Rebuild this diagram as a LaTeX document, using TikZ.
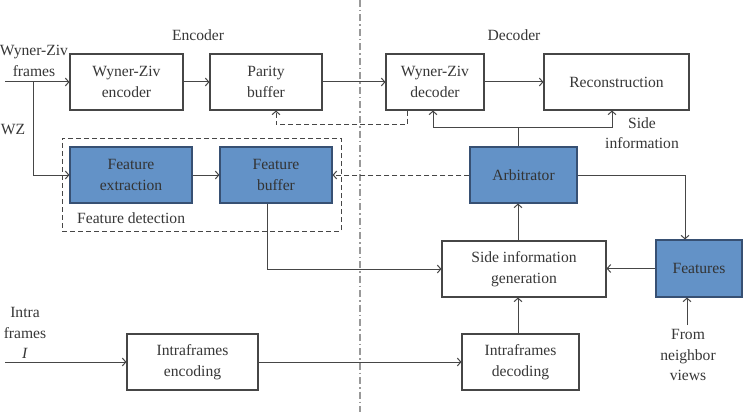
\documentclass[tikz,border=0pt]{standalone}
\usepackage{fontspec}
\setmainfont{Liberation Serif}
\usetikzlibrary{arrows.meta,calc}
\definecolor{ln}{RGB}{70,70,70}
\definecolor{tx}{RGB}{55,55,55}
\definecolor{bfill}{RGB}{99,146,199}
\definecolor{bdraw}{RGB}{55,80,115}
\begin{document}
\begin{tikzpicture}[x=1pt,y=-1pt,
  font=\fontsize{15.6}{20.5}\selectfont,
  every node/.style={text=tx},
  wbox/.style={draw=ln,line width=1.1pt,fill=white,align=center,inner sep=0pt},
  bbox/.style={draw=bdraw,line width=1.1pt,fill=bfill,align=center,inner sep=0pt,text=black!80},
  lbl/.style={align=center,inner sep=0pt},
  arr/.style={draw=ln,line width=1pt,-{Straight Barb[length=3.5pt,width=8pt]}},
  ln/.style={draw=ln,line width=1pt},
  dsh/.style={draw=ln,line width=1pt,dash pattern=on 5pt off 3pt}
]
\useasboundingbox (0,0) rectangle (745,412);
\fill[white] (0,0) rectangle (745,412);
% separator
\draw[gray!80,line width=1.2pt,dash pattern=on 7pt off 3pt on 1.5pt off 3pt] (360,0) -- (360,412);
% labels
\node[lbl] (enc) at (198,35) {Encoder};
\node[lbl] (dec) at (514,35) {Decoder};
\node[lbl] (wzf) at (34,61) {Wyner-Ziv\\frames};
\node[lbl] (wz) at (13,130) {WZ};
\node[lbl,anchor=west] (fdl) at (77,218) {Feature detection};
\node[lbl] (si) at (642,133) {Side\\information};
\node[lbl] (intra) at (25,333) {Intra\\frames\\\textit{I}};
\node[lbl] (nbr) at (688,355) {From\\neighbor\\views};
% boxes
\node[wbox,minimum width=113pt,minimum height=56pt] (wze) at (126.5,82) {Wyner-Ziv\\encoder};
\node[wbox,minimum width=112pt,minimum height=56pt] (pb) at (266,82) {Parity\\buffer};
\node[wbox,minimum width=98pt,minimum height=56pt] (wzd) at (435,82) {Wyner-Ziv\\decoder};
\node[wbox,minimum width=145pt,minimum height=56pt] (rec) at (616.5,82) {Reconstruction};
\node[draw=ln,line width=1pt,dash pattern=on 5pt off 3pt,minimum width=279pt,minimum height=93pt] (fd) at (201.5,184.5) {};
\node[bbox,minimum width=122pt,minimum height=56pt] (fe) at (131,175) {Feature\\extraction};
\node[bbox,minimum width=112pt,minimum height=56pt] (fb) at (276,175) {Feature\\buffer};
\node[bbox,minimum width=107pt,minimum height=56pt] (arb) at (523.5,175) {Arbitrator};
\node[wbox,minimum width=164pt,minimum height=56pt] (sig) at (524,269) {Side information\\generation};
\node[bbox,minimum width=86pt,minimum height=57pt] (feat) at (699,268.5) {Features};
\node[wbox,minimum width=131pt,minimum height=56pt] (ie) at (192.5,362) {Intraframes\\encoding};
\node[wbox,minimum width=117pt,minimum height=56pt] (id) at (520.5,362) {Intraframes\\decoding};
% coordinates
\coordinate (wzin) at (5,82);
\coordinate (iin) at (5,362);
\coordinate (br) at (33,82);
\coordinate (nb) at (687,325);
\coordinate (vx) at (518,0);
% connectors
\draw[arr] (wzin) -- (wze.west);
\draw[arr] (br) |- (fe.west);
\draw[arr] (wze.east) -- (pb.west);
\draw[arr] (pb.east) -- (wzd.west);
\draw[arr] (wzd.east) -- (rec.west);
\draw[dsh,-{Straight Barb[length=3.5pt,width=8pt]}] ([xshift=-28]wzd.south) |- ++(0,14) -| ([xshift=10]pb.south);
\draw[arr] (fe.east) -- (fb.west);
\draw[dsh,-{Straight Barb[length=3.5pt,width=8pt]}] (arb.west) -- (fb.west -| fb.east);
\draw[ln] (arb.north -| vx) -- ++(0,-19) coordinate (split);
\draw[arr] (split) -| ([xshift=-2]wzd.south);
\draw[arr] (split) -| ([xshift=-4.5]rec.south);
\draw[arr] (arb.east) -| ([xshift=-14]feat.north);
\draw[arr] (feat.west) -- (feat.west -| sig.east);
\draw[arr] ([xshift=-9]fb.south) |- (sig.west);
\draw[arr] (sig.north -| vx) -- (arb.south -| vx);
\draw[arr] (iin) -- (ie.west);
\draw[arr] (ie.east) -- (id.west);
\draw[arr] (id.north -| vx) -- (sig.south -| vx);
\draw[arr] (nb) -- (nb |- feat.south);
\end{tikzpicture}
\end{document}
